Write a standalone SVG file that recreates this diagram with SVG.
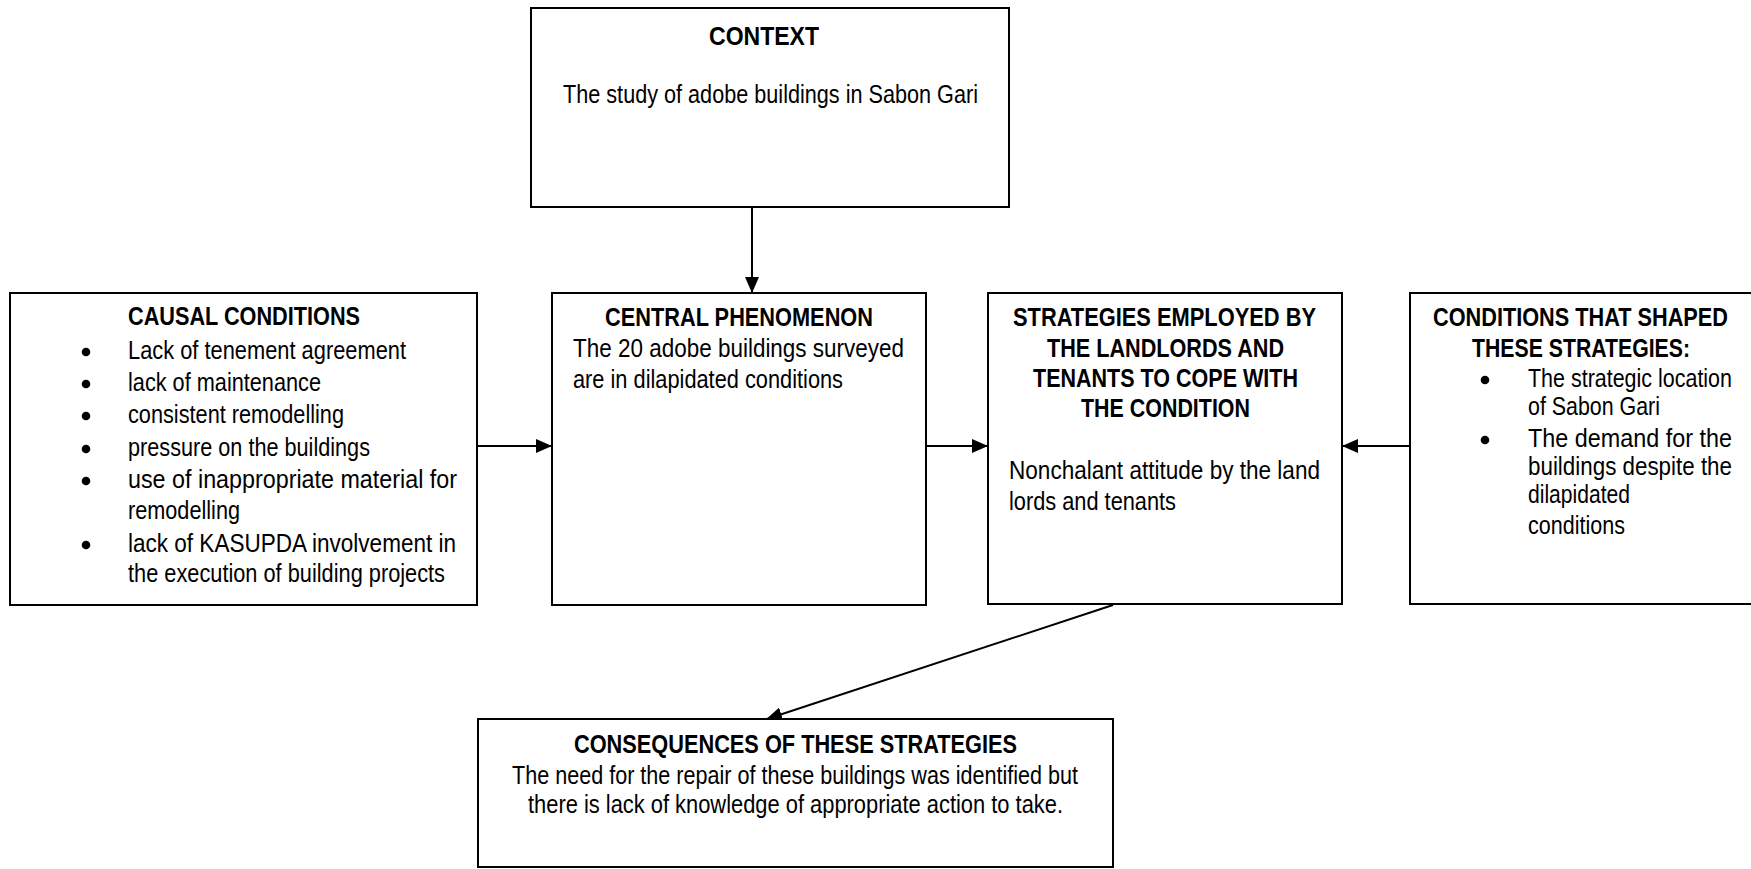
<svg xmlns="http://www.w3.org/2000/svg" width="1751" height="869" viewBox="0 0 1751 869">
<style>
  .box { fill: #ffffff; stroke: #000000; stroke-width: 2; }
  .t { font-family: "Liberation Sans", Arial, sans-serif; font-size: 25px; fill: #000000; }
  .b { font-weight: bold; }
  .conn { stroke: #000000; stroke-width: 2; fill: none; marker-end: url(#arr); }
  .dot { fill: #000000; }
</style>
<defs>
  <marker id="arr" markerUnits="userSpaceOnUse" markerWidth="16" markerHeight="14" refX="15" refY="7" orient="auto">
    <path d="M0,0 L16,7 L0,14 z" fill="#000000"/>
  </marker>
</defs>
<rect width="1751" height="869" fill="#ffffff"/>

<g id="connectors">
  <line class="conn" x1="752" y1="207" x2="752" y2="292"/>
  <line class="conn" x1="477" y1="446" x2="551" y2="446"/>
  <line class="conn" x1="926" y1="446" x2="987" y2="446"/>
  <line class="conn" x1="1410" y1="446" x2="1343" y2="446"/>
  <line class="conn" x1="1113" y1="605" x2="767" y2="719"/>
</g>

<g id="context">
  <rect class="box" x="531" y="8" width="478" height="199"/>
  <text class="t b" x="709" y="45" textLength="110" lengthAdjust="spacingAndGlyphs">CONTEXT</text>
  <text class="t" x="563" y="103" textLength="415" lengthAdjust="spacingAndGlyphs">The study of adobe buildings in Sabon Gari</text>
</g>

<g id="causal">
  <rect class="box" x="10" y="293" width="467" height="312"/>
  <text class="t b" x="128" y="325" textLength="232" lengthAdjust="spacingAndGlyphs">CAUSAL CONDITIONS</text>
  <circle class="dot" cx="86" cy="352" r="4.3"/>
  <text class="t" x="128" y="359" textLength="278" lengthAdjust="spacingAndGlyphs">Lack of tenement agreement</text>
  <circle class="dot" cx="86" cy="384" r="4.3"/>
  <text class="t" x="128" y="391" textLength="193" lengthAdjust="spacingAndGlyphs">lack of maintenance</text>
  <circle class="dot" cx="86" cy="416" r="4.3"/>
  <text class="t" x="128" y="423" textLength="216" lengthAdjust="spacingAndGlyphs">consistent remodelling</text>
  <circle class="dot" cx="86" cy="449" r="4.3"/>
  <text class="t" x="128" y="456" textLength="242" lengthAdjust="spacingAndGlyphs">pressure on the buildings</text>
  <circle class="dot" cx="86" cy="481" r="4.3"/>
  <text class="t" x="128" y="488" textLength="329" lengthAdjust="spacingAndGlyphs">use of inappropriate material for</text>
  <text class="t" x="128" y="519" textLength="112" lengthAdjust="spacingAndGlyphs">remodelling</text>
  <circle class="dot" cx="86" cy="545" r="4.3"/>
  <text class="t" x="128" y="552" textLength="328" lengthAdjust="spacingAndGlyphs">lack of KASUPDA involvement in</text>
  <text class="t" x="128" y="582" textLength="317" lengthAdjust="spacingAndGlyphs">the execution of building projects</text>
</g>

<g id="central">
  <rect class="box" x="552" y="293" width="374" height="312"/>
  <text class="t b" x="605" y="326" textLength="268" lengthAdjust="spacingAndGlyphs">CENTRAL PHENOMENON</text>
  <text class="t" x="573" y="357" textLength="331" lengthAdjust="spacingAndGlyphs">The 20 adobe buildings surveyed</text>
  <text class="t" x="573" y="388" textLength="270" lengthAdjust="spacingAndGlyphs">are in dilapidated conditions</text>
</g>

<g id="strategies">
  <rect class="box" x="988" y="293" width="354" height="311"/>
  <text class="t b" x="1013" y="326" textLength="303" lengthAdjust="spacingAndGlyphs">STRATEGIES EMPLOYED BY</text>
  <text class="t b" x="1047" y="357" textLength="237" lengthAdjust="spacingAndGlyphs">THE LANDLORDS AND</text>
  <text class="t b" x="1033" y="387" textLength="265" lengthAdjust="spacingAndGlyphs">TENANTS TO COPE WITH</text>
  <text class="t b" x="1081" y="417" textLength="169" lengthAdjust="spacingAndGlyphs">THE CONDITION</text>
  <text class="t" x="1009" y="479" textLength="311" lengthAdjust="spacingAndGlyphs">Nonchalant attitude by the land</text>
  <text class="t" x="1009" y="510" textLength="167" lengthAdjust="spacingAndGlyphs">lords and tenants</text>
</g>

<g id="conditions">
  <rect class="box" x="1410" y="293" width="360" height="311"/>
  <text class="t b" x="1433" y="326" textLength="295" lengthAdjust="spacingAndGlyphs">CONDITIONS THAT SHAPED</text>
  <text class="t b" x="1472" y="357" textLength="218" lengthAdjust="spacingAndGlyphs">THESE STRATEGIES:</text>
  <circle class="dot" cx="1485" cy="380" r="4.3"/>
  <text class="t" x="1528" y="387" textLength="204" lengthAdjust="spacingAndGlyphs">The strategic location</text>
  <text class="t" x="1528" y="415" textLength="132" lengthAdjust="spacingAndGlyphs">of Sabon Gari</text>
  <circle class="dot" cx="1485" cy="440" r="4.3"/>
  <text class="t" x="1528" y="447" textLength="204" lengthAdjust="spacingAndGlyphs">The demand for the</text>
  <text class="t" x="1528" y="475" textLength="204" lengthAdjust="spacingAndGlyphs">buildings despite the</text>
  <text class="t" x="1528" y="503" textLength="102" lengthAdjust="spacingAndGlyphs">dilapidated</text>
  <text class="t" x="1528" y="534" textLength="97" lengthAdjust="spacingAndGlyphs">conditions</text>
</g>

<g id="consequences">
  <rect class="box" x="478" y="719" width="635" height="148"/>
  <text class="t b" x="574" y="753" textLength="443" lengthAdjust="spacingAndGlyphs">CONSEQUENCES OF THESE STRATEGIES</text>
  <text class="t" x="512" y="784" textLength="566" lengthAdjust="spacingAndGlyphs">The need for the repair of these buildings was identified but</text>
  <text class="t" x="528" y="813" textLength="535" lengthAdjust="spacingAndGlyphs">there is lack of knowledge of appropriate action to take.</text>
</g>
</svg>
